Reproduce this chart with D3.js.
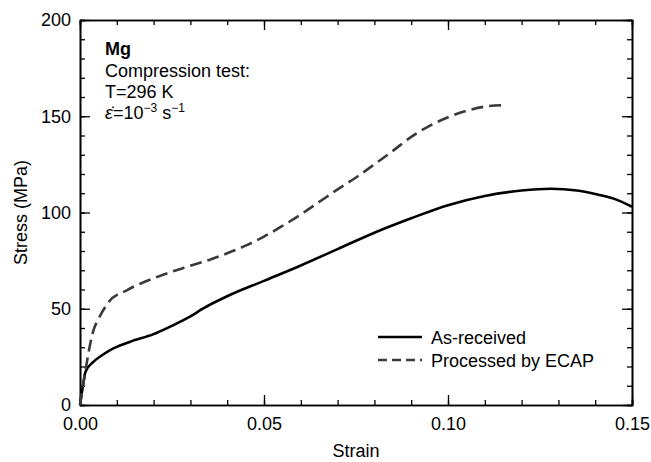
<!DOCTYPE html>
<html>
<head>
<meta charset="utf-8">
<script src="https://cdn.jsdelivr.net/npm/d3@7"></script>
<style>
  body { margin: 0; background: #fff; }
  text { font-family: "Liberation Sans", Arial, sans-serif; fill: #000; }
  .axis path, .axis line { stroke: #000; }
</style>
</head>
<body>
<svg id="chart" width="651" height="462"></svg>
<script>
// As-received (strain, stress MPa)
var asReceived = [
  [0, 0], [0.0008, 10], [0.0015, 17.3], [0.0037, 22.5], [0.0065, 26.5],
  [0.0092, 29.5], [0.0137, 32.9], [0.02, 36.8], [0.0245, 40.7], [0.03, 46],
  [0.0335, 50.2], [0.04, 56.5], [0.05, 64.5], [0.06, 72.5], [0.07, 81],
  [0.08, 89.5], [0.09, 97], [0.10, 103.8], [0.11, 108.6], [0.12, 111.4],
  [0.128, 112.3], [0.135, 111.4], [0.14, 109.6], [0.145, 107.2], [0.15, 103]
];
// Processed by ECAP
var ecap = [
  [0, 0], [0.0015, 18], [0.0028, 32], [0.0037, 39], [0.0051, 45],
  [0.0078, 53.5], [0.0128, 59.7], [0.02, 65.8], [0.0281, 71.2], [0.0353, 75.5],
  [0.04, 78.8], [0.045, 82.8], [0.05, 87.5], [0.055, 93], [0.06, 99],
  [0.065, 105.5], [0.07, 112], [0.075, 118.2], [0.08, 125], [0.085, 132],
  [0.09, 139.3], [0.095, 145], [0.10, 149.5], [0.105, 152.8], [0.11, 155],
  [0.1155, 155.8]
];
var xTicks = [0, 0.05, 0.10, 0.15];
var yTicks = [0, 50, 100, 150, 200];
var legendLabels = ["As-received", "Processed by ECAP"];

var svg = d3.select("#chart");
var plotL = 80, plotR = 632, plotT = 20, plotB = 405;

var x = d3.scaleLinear().domain([0, 0.15]).range([plotL, plotR]);
var y = d3.scaleLinear().domain([0, 200]).range([plotB, plotT]);

var xMinor = d3.range(0, 0.1501, 0.01);
var yMinor = d3.range(0, 201, 10);

function styleAxis(g) {
  g.attr("class", "axis");
  g.select(".domain").attr("stroke-width", 1.6);
  g.selectAll(".tick line").attr("stroke-width", 1.3);
  g.selectAll("text").attr("font-size", 18).attr("fill", "#000");
}

// minor ticks
svg.append("g").attr("transform", "translate(0," + plotB + ")")
  .call(d3.axisBottom(x).tickValues(xMinor).tickSize(-5).tickFormat("")).call(styleAxis);
svg.append("g").attr("transform", "translate(0," + plotT + ")")
  .call(d3.axisTop(x).tickValues(xMinor).tickSize(-5).tickFormat("")).call(styleAxis);
svg.append("g").attr("transform", "translate(" + plotL + ",0)")
  .call(d3.axisLeft(y).tickValues(yMinor).tickSize(-5).tickFormat("")).call(styleAxis);
svg.append("g").attr("transform", "translate(" + plotR + ",0)")
  .call(d3.axisRight(y).tickValues(yMinor).tickSize(-5).tickFormat("")).call(styleAxis);

// major ticks
svg.append("g").attr("transform", "translate(0," + plotB + ")")
  .call(d3.axisBottom(x).tickValues(xTicks).tickSize(-10).tickSizeOuter(0).tickPadding(12)
    .tickFormat(d3.format(".2f"))).call(styleAxis);
svg.append("g").attr("transform", "translate(0," + plotT + ")")
  .call(d3.axisTop(x).tickValues(xTicks).tickSize(-10).tickSizeOuter(0).tickFormat("")).call(styleAxis);
svg.append("g").attr("transform", "translate(" + plotL + ",0)")
  .call(d3.axisLeft(y).tickValues(yTicks).tickSize(-10).tickSizeOuter(0).tickPadding(9)).call(styleAxis);
svg.append("g").attr("transform", "translate(" + plotR + ",0)")
  .call(d3.axisRight(y).tickValues(yTicks).tickSize(-10).tickSizeOuter(0).tickFormat("")).call(styleAxis);

// axis titles
svg.append("text").attr("x", (plotL + plotR) / 2).attr("y", 457)
  .attr("text-anchor", "middle").attr("font-size", 18).text("Strain");
svg.append("text").attr("transform", "translate(27," + ((plotT + plotB) / 2) + ") rotate(-90)")
  .attr("text-anchor", "middle").attr("font-size", 18).text("Stress (MPa)");

// curves
var line = d3.line()
  .x(function (d) { return x(d[0]); })
  .y(function (d) { return y(d[1]); })
  .curve(d3.curveMonotoneX);

svg.append("path").datum(asReceived).attr("d", line)
  .attr("fill", "none").attr("stroke", "#000").attr("stroke-width", 2.6);
svg.append("path").datum(ecap).attr("d", line)
  .attr("fill", "none").attr("stroke", "#3a3a3a").attr("stroke-width", 2.6)
  .attr("stroke-dasharray", "12,6");

// annotation
var note = svg.append("g").attr("font-size", 18);
note.append("text").attr("x", 105).attr("y", 55).attr("font-weight", "bold").text("Mg");
note.append("text").attr("x", 105).attr("y", 76.5).text("Compression test:");
note.append("text").attr("x", 105).attr("y", 97.5).text("T=296 K");
var rate = note.append("text").attr("x", 105).attr("y", 118.5);
rate.append("tspan").attr("font-style", "italic").text("\u03B5\u0307");
rate.append("tspan").text("=10");
rate.append("tspan").attr("font-size", 12).attr("dy", -7).text("\u22123");
rate.append("tspan").attr("dy", 7).text(" s");
rate.append("tspan").attr("font-size", 12).attr("dy", -7).text("\u22121");

// legend
var legend = svg.append("g");
legendLabels.forEach(function (label, i) {
  var ly = 337 + i * 23;
  legend.append("line").attr("x1", 378).attr("x2", 422).attr("y1", ly).attr("y2", ly)
    .attr("stroke", i === 0 ? "#000" : "#3a3a3a").attr("stroke-width", 2.6)
    .attr("stroke-dasharray", i === 0 ? null : "9,5");
  legend.append("text").attr("x", 431).attr("y", ly + 6.5).attr("font-size", 18).text(label);
});
</script>
</body>
</html>
